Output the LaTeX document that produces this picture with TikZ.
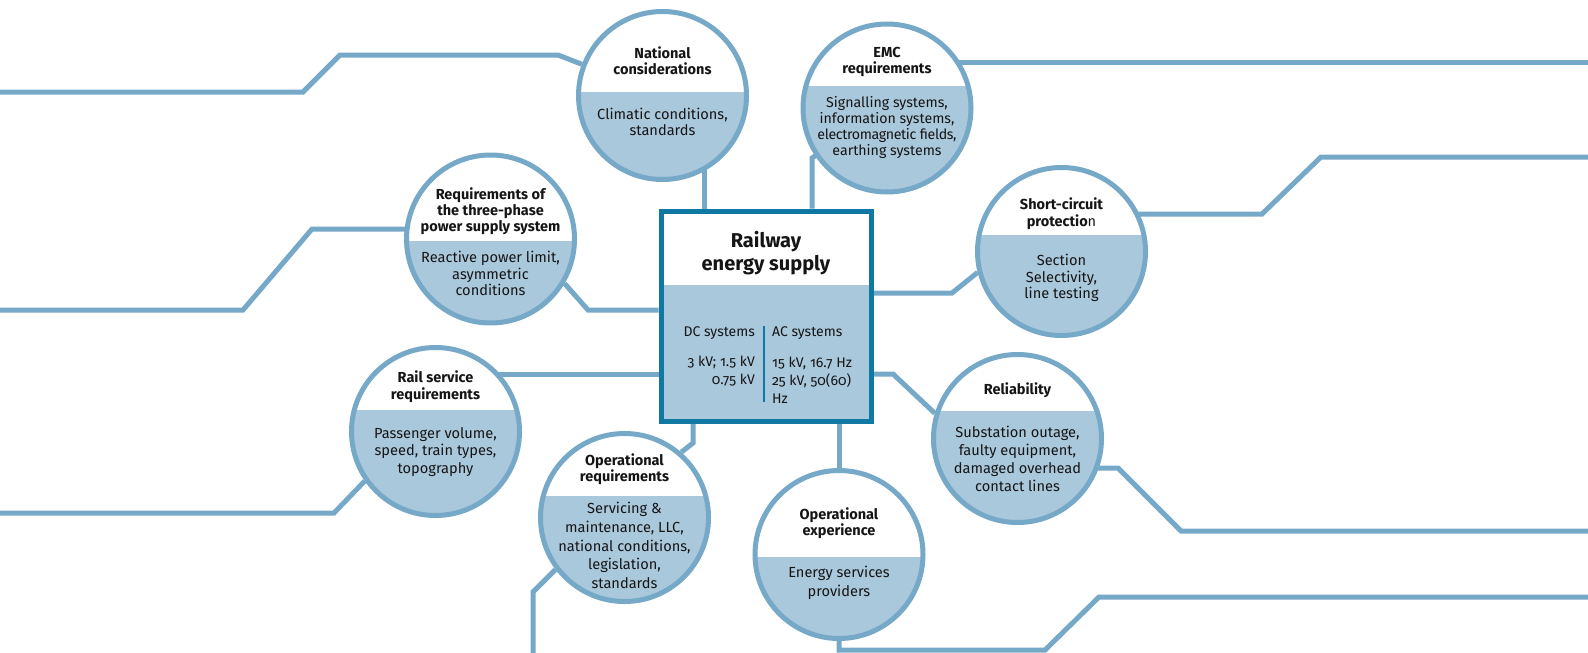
\documentclass[tikz,border=0pt]{standalone}
\usepackage{fontspec}
\setmainfont{Fira Sans}[Numbers=OldStyle]
\usetikzlibrary{calc}
\definecolor{lineblue}{HTML}{76A8C8}
\definecolor{fillblue}{HTML}{AAC8DC}
\definecolor{boxblue}{HTML}{0F79A4}
\definecolor{txt}{HTML}{151515}
\pgfdeclarelayer{bg}
\pgfsetlayers{bg,main}
\newcommand\mybubble[4]{%
  \fill[white] (#2,#3) circle[radius=84pt];
  \begin{scope}
    \clip (#2,#3) circle[radius=84pt];
    \fill[fillblue] (#2-90,#4) rectangle (#2+90,#3+90);
  \end{scope}
  \node[ring] (#1) at (#2,#3) {};}
\begin{document}
\begin{tikzpicture}[x=1pt,y=-1pt,
  conn/.style={draw=lineblue,line width=5pt},
  ring/.style={circle,draw=lineblue,line width=5pt,minimum size=168pt,inner sep=0pt},
  hd/.style={align=center,text=txt,inner sep=0pt,font=\fontsize{14.5}{#1}\selectfont\bfseries},
  hd/.default=16,
  bd/.style={align=center,text=txt,inner sep=0pt,font=\fontsize{14.6}{#1}\selectfont},
  bd/.default=16]
\useasboundingbox (0,0) rectangle (1588,653);

% central box
\fill[white] (661,211) rectangle (871,421);
\fill[fillblue] (661,285) rectangle (871,421);
\node[draw=boxblue,line width=5pt,minimum width=210pt,minimum height=210pt,inner sep=0pt] (core) at (766,316) {};
\node[align=center,text=txt,inner sep=0pt,font=\fontsize{20}{23}\selectfont\bfseries] (coretitle) at (766,253.5) {Railway\\energy supply};
\node[anchor=east,text=txt,inner sep=0pt,font=\fontsize{14}{18}\selectfont] (dchead) at (755,333) {DC systems};
\node[anchor=east,align=right,text=txt,inner sep=0pt,font=\fontsize{14}{18}\selectfont] (dcval) at (755,371) {3 kV; 1.5 kV\\0.75 kV};
\node[anchor=west,text=txt,inner sep=0pt,font=\fontsize{14}{18}\selectfont] (achead) at (772,333) {AC systems};
\node[anchor=west,align=left,text=txt,inner sep=0pt,font=\fontsize{14}{18}\selectfont] (acval) at (772,380) {15 kV, 16.7 Hz\\25 kV, 50(60)\\Hz};
\draw[boxblue,line width=2pt] (764,326) -- (764,402);

% bubbles
\mybubble{nat}{662.5}{95.5}{92}
\node[hd] (natT) at (662.5,60.5) {National\\considerations};
\node[bd] (natB) at (662.5,121.5) {Climatic conditions,\\standards};

\mybubble{emc}{887}{108}{86}
\node[hd] (emcT) at (887,61.5) {EMC\\requirements};
\node[bd=15.8,font=\fontsize{14.2}{15.8}\selectfont] (emcB) at (887,127.5) {Signalling systems,\\information systems,\\{\addfontfeature{LetterSpace=-2.5}electromagnetic fields,}\\earthing systems};

\mybubble{short}{1061.5}{251.5}{235}
\node[hd=17] (shortT) at (1061.5,213.5) {Short-circuit\\protectio\mdseries n};
\node[bd=16.7] (shortB) at (1061.5,278) {Section\\Selectivity,\\line testing};

\mybubble{three}{490.5}{239}{241}
\node[hd] (threeT) at (490.5,211) {Requirements of\\the three-phase\\power supply system};
\node[bd=16.3] (threeB) at (490.5,273.5) {Reactive power limit,\\asymmetric\\conditions};

\mybubble{rail}{435.5}{431.5}{410}
\node[hd=17] (railT) at (435.5,386.5) {Rail service\\requirements};
\node[bd=17.3] (railB) at (435.5,452) {Passenger volume,\\speed, train types,\\topography};

\mybubble{opreq}{624.5}{517.5}{496}
\node[hd] (opreqT) at (624.5,469) {Operational\\requirements};
\node[bd=18.6] (opreqB) at (624.5,545.5) {Servicing \&\\maintenance, LLC,\\national conditions,\\legislation,\\standards};

\mybubble{opexp}{839}{554.5}{557}
\node[hd] (opexpT) at (839,523) {Operational\\experience};
\node[bd=19.2] (opexpB) at (839,583) {Energy services\\providers};

\mybubble{rel}{1017.5}{438.5}{411}
\node[hd] (relT) at (1017.5,390) {Reliability};
\node[bd=18] (relB) at (1017.5,459) {Substation outage,\\faulty equipment,\\damaged overhead\\contact lines};

% connectors
\begin{pgfonlayer}{bg}
\coordinate (e1) at (0,92);
\draw[conn] (e1) -- (303,92) -- (340,55) -- (558,55) -- (nat);
\draw[conn] (core.north -| 704,0) -- (nat.center -| 704,0);
\draw[conn] (core.north -| 812,0) -- (812,158) -- (emc.center);
\coordinate (e2) at (1588,62);
\draw[conn] (emc.center |- e2) -- (e2);
\draw[conn] (core.east |- 0,293) -- (952,293) -- (short.194);
\coordinate (e3) at (1588,157);
\draw[conn] (short.center |- 0,214) -- (1262,214) -- (1321,157) -- (e3);
\coordinate (e4) at (0,310);
\draw[conn] (three.center |- 0,229) -- (312,229) -- (243,310) -- (e4);
\draw[conn] (three.-31) -- (588,310) -- (core.west |- 0,310);
\draw[conn] (rail.center |- 0,374) -- (core.west |- 0,374);
\coordinate (e5) at (0,513);
\draw[conn] (e5) -- (334,513) -- (rail.215);
\draw[conn] (core.south -| 693,0) -- (693,443) -- (opreq.49);
\coordinate (e6) at (533,653);
\draw[conn] (opreq.217) -- (533,592) -- (e6);
\draw[conn] (core.south -| opexp.center) -- (opexp);
\coordinate (e7) at (1588,597);
\draw[conn] (opexp.center) -- (opexp.center |- 0,650) -- (1045,650) -- (1099,597) -- (e7);
\draw[conn] (core.east |- 0,374) -- (893,374) -- (rel.163);
\coordinate (e8) at (1588,531);
\draw[conn] (rel.center |- 0,468) -- (1118,468) -- (1181,531) -- (e8);
\end{pgfonlayer}
\end{tikzpicture}
\end{document}
